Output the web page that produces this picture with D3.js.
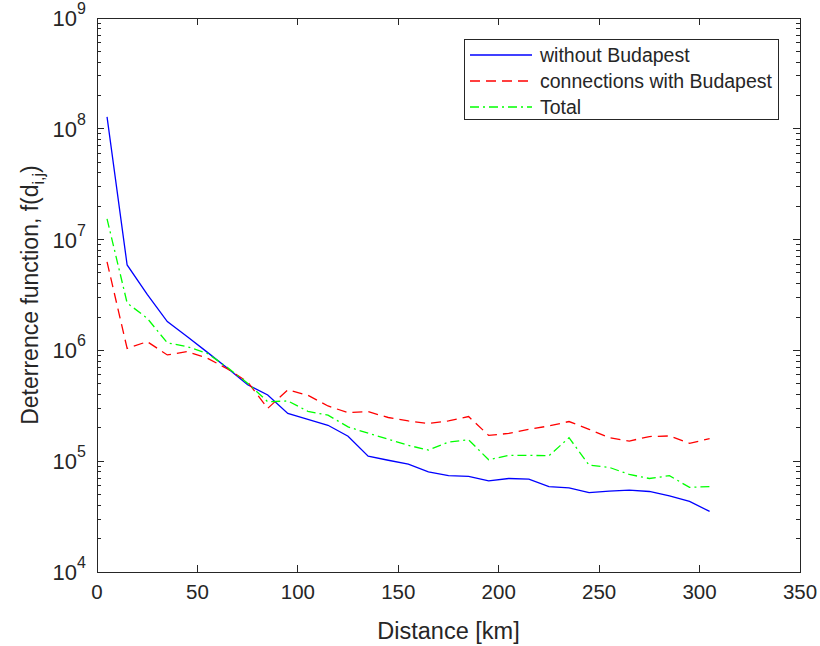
<!DOCTYPE html>
<html><head><meta charset="utf-8">
<script src="https://cdn.jsdelivr.net/npm/d3@7"></script>
<style>body{margin:0;background:#fff;} text{font-family:"Liberation Sans",Arial,sans-serif;fill:#262626;}</style>
</head><body><svg id="c" width="820" height="646"></svg>
<script>
const distance = [5,15,25,35,45,55,65,75,85,95,105,115,125,135,145,155,165,175,185,195,205,215,225,235,245,255,265,275,285,295,305];
const withoutBudapest = [1.28e8,5.9e6,3.2e6,1.82e6,1.33e6,9.6e5,6.9e5,4.9e5,3.96e5,2.7e5,2.39e5,2.11e5,1.68e5,1.11e5,1.02e5,9.4e4,8.0e4,7.4e4,7.3e4,6.65e4,6.98e4,6.9e4,5.9e4,5.75e4,5.2e4,5.37e4,5.48e4,5.33e4,4.87e4,4.34e4,3.52e4];
const withBudapest = [6.3e6,1.04e6,1.2e6,9.1e5,9.75e5,8.5e5,6.8e5,5.2e5,3.0e5,4.4e5,3.94e5,3.15e5,2.74e5,2.8e5,2.48e5,2.31e5,2.19e5,2.31e5,2.53e5,1.71e5,1.78e5,1.94e5,2.08e5,2.28e5,1.94e5,1.63e5,1.52e5,1.67e5,1.69e5,1.45e5,1.6e5];
const total = [1.54e7,2.68e6,1.95e6,1.17e6,1.08e6,9.4e5,7.0e5,5.05e5,3.44e5,3.5e5,2.82e5,2.6e5,2.04e5,1.79e5,1.58e5,1.39e5,1.26e5,1.49e5,1.56e5,1.03e5,1.13e5,1.13e5,1.12e5,1.63e5,9.2e4,8.8e4,7.6e4,6.98e4,7.4e4,5.8e4,5.9e4];
const xTicks = [0,50,100,150,200,250,300,350];
const yExponents = [4,5,6,7,8,9];
const seriesNames = ["without Budapest","connections with Budapest","Total"];

const L=97,R=800,T=18,B=572;
const svg=d3.select("#c");
const x=d3.scaleLinear().domain([0,350]).range([L,R]);
const y=d3.scaleLog().domain([1e4,1e9]).range([B,T]);
const ax="#262626";

svg.append("rect").attr("x",L).attr("y",T).attr("width",R-L).attr("height",B-T).attr("fill","#fff");

// minor ticks
const minor=[];
for(let e=4;e<9;e++) for(let m=2;m<=9;m++) minor.push(m*Math.pow(10,e));
const g=svg.append("g");
g.selectAll(".ymin").data(minor).enter().append("path")
 .attr("d",d=>`M${L},${y(d)}h4M${R},${y(d)}h-4`).attr("stroke",ax).attr("stroke-width",1).attr("shape-rendering","crispEdges");
g.selectAll(".ymaj").data(yExponents.map(e=>Math.pow(10,e))).enter().append("path")
 .attr("d",d=>`M${L},${y(d)}h7M${R},${y(d)}h-7`).attr("stroke",ax).attr("stroke-width",1).attr("shape-rendering","crispEdges");
g.selectAll(".xmaj").data(xTicks).enter().append("path")
 .attr("d",d=>`M${x(d)},${B}v-7M${x(d)},${T}v7`).attr("stroke",ax).attr("stroke-width",1).attr("shape-rendering","crispEdges");

// lines
const line=vals=>d3.line().x((d,i)=>x(distance[i])).y(d=>y(d))(vals);
const styles=[{c:"#0000ff",dash:null},{c:"#ff0000",dash:"10,6"},{c:"#00ff00",dash:"9,4,2,4"}];
[withoutBudapest,withBudapest,total].forEach((s,i)=>{
  svg.append("path").attr("d",line(s)).attr("fill","none").attr("stroke",styles[i].c)
   .attr("stroke-width",1.3).attr("stroke-dasharray",styles[i].dash);
});

// frame
svg.append("rect").attr("x",L).attr("y",T).attr("width",R-L).attr("height",B-T)
 .attr("fill","none").attr("stroke",ax).attr("stroke-width",1).attr("shape-rendering","crispEdges");

// x tick labels
svg.selectAll(".xl").data(xTicks).enter().append("text")
 .attr("x",d=>x(d)).attr("y",599).attr("text-anchor","middle").attr("font-size",20.5).text(d=>d);
// y tick labels
yExponents.forEach(e=>{
  const t=svg.append("text").attr("x",86).attr("y",y(Math.pow(10,e))+8).attr("text-anchor","end").attr("font-size",22);
  t.append("tspan").text("10");
  t.append("tspan").attr("dy",-12).attr("font-size",16).text(e);
});
// axis titles
svg.append("text").attr("x",(L+R)/2).attr("y",639).attr("text-anchor","middle").attr("font-size",23.5).text("Distance [km]");
const yt=svg.append("text").attr("transform",`translate(38,${(T+B)/2}) rotate(-90)`).attr("text-anchor","middle").attr("font-size",23);
yt.append("tspan").text("Deterrence function, f(d");
yt.append("tspan").attr("dy",6).attr("font-size",16).text("i,j");
yt.append("tspan").attr("dy",-6).text(")");

// legend
const lg=svg.append("g");
lg.append("rect").attr("x",464).attr("y",39).attr("width",314).attr("height",80).attr("fill","#fff").attr("stroke",ax).attr("stroke-width",1).attr("shape-rendering","crispEdges");
const rows=[55,81,107];
seriesNames.forEach((n,i)=>{
  lg.append("line").attr("x1",470).attr("x2",532).attr("y1",rows[i]).attr("y2",rows[i]).attr("stroke",styles[i].c).attr("stroke-width",1.3).attr("stroke-dasharray",styles[i].dash);
  lg.append("text").attr("x",540).attr("y",rows[i]+7).attr("font-size",19.5).text(n);
});
</script></body></html>
